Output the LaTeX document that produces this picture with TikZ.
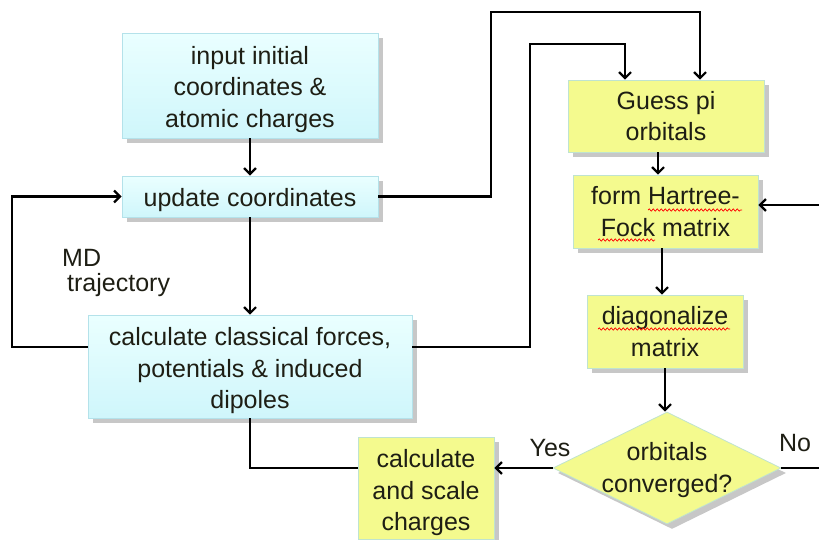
\documentclass[tikz,border=0pt]{standalone}
\usepackage{fontspec}
\setmainfont{Liberation Sans}
\usetikzlibrary{shapes.geometric,shadows,arrows.meta,decorations.pathmorphing}
\definecolor{cyantop}{HTML}{EAFFFF}
\definecolor{cyanbot}{HTML}{CFF6FB}
\definecolor{cyanline}{HTML}{B4E2EA}
\definecolor{yelfill}{HTML}{F4FA8E}
\definecolor{yelline}{HTML}{BFE3D0}
\definecolor{txt}{HTML}{1E1E14}
\tikzset{
  base/.style={inner sep=0pt,
    drop shadow={shadow xshift=5pt, shadow yshift=-5pt, fill=black!22, opacity=1}},
  cyanbox/.style={base, rectangle, draw=cyanline, line width=0.8pt, top color=cyantop, bottom color=cyanbot},
  yelbox/.style={base, rectangle, draw=yelline, line width=0.8pt, fill=yelfill},
  arr/.style={line width=2.4pt, -{Straight Barb[length=6pt,width=12pt,line width=2.2pt]}},
  ln/.style={line width=2.4pt},
  lbl/.style={font=\fontsize{25}{31.5}\selectfont, text=txt, inner sep=0pt, align=center}
}
\begin{document}
\begin{tikzpicture}[x=1pt,y=-1pt]
\useasboundingbox (0,0) rectangle (819,539);
% boxes
\node[cyanbox, minimum width=256pt, minimum height=105pt] (input) at (250,85.5) {};
\node[cyanbox, minimum width=256pt, minimum height=41pt] (update) at (250,196.5) {};
\node[cyanbox, minimum width=324pt, minimum height=103pt] (calc) at (250,366.5) {};
\node[yelbox, minimum width=196pt, minimum height=72pt] (guess) at (666,116) {};
\node[yelbox, minimum width=185pt, minimum height=73pt] (hf) at (665.5,211.5) {};
\node[yelbox, minimum width=156pt, minimum height=73pt] (diag) at (665,331.5) {};
\node[yelbox, diamond, minimum width=228pt, minimum height=112pt] (dia) at (667,468) {};
\node[yelbox, minimum width=136pt, minimum height=102pt] (charges) at (426,488) {};
% texts
\node[lbl] (inputt) at (250,89.5) {input initial\\coordinates \&\\atomic charges};
\node[lbl] (updatet) at (250,200) {update coordinates};
\node[lbl] (calct) at (250,371) {calculate classical forces,\\potentials \& induced\\dipoles};
\node[lbl] (guesst) at (666,116) {Guess pi\\orbitals};
\node[lbl] (hft) at (665.5,211.5) {form Hartree-\\Fock matrix};
\node[lbl] (diagt) at (665,331.5) {diagonalize\\matrix};
\node[lbl] (diat) at (667,470) {orbitals\\converged?};
\node[lbl] (chargest) at (426,493) {calculate\\and scale\\charges};
\node[lbl, anchor=west] (md) at (62,258) {MD};
\node[lbl, anchor=west] (traj) at (67,285) {trajectory};
\node[lbl] (yes) at (550,448) {Yes};
\node[lbl] (no) at (795,443) {No};
\coordinate (noend) at (819,468);
\coordinate (hfin) at (819,205);
% connectors
\draw[arr] (input.south) -- (update.north);
\draw[arr] (update.south) -- (calc.north);
\draw[arr] ([yshift=19.5pt]calc.west) -| (12,196.5) -- (update.west);
\draw[arr] (update.east) -- (491,196.5) -- (491,12) -| ([xshift=34pt]guess.north);
\draw[arr] ([yshift=19.5pt]calc.east) -| (530,44) -| ([xshift=-41pt]guess.north);
\draw[arr] ([xshift=-8pt]guess.south) -- ([xshift=-7.5pt]hf.north);
\draw[arr] ([xshift=-3.5pt]hf.south) -- ([xshift=-3pt]diag.north);
\draw[arr] (diag.south) -- (diag.south |- dia.north);
\draw[arr] (dia.west) -- (charges.east |- dia.west);
\draw[ln] (dia.east) -- (noend);
\draw[arr] (hfin) -- (hf.east |- hfin);
\draw[ln] (charges.west |- dia.west) -| (calc.south);
% spelling squiggles
\tikzset{squig/.style={red, line width=0.7pt, decorate, decoration={snake, segment length=4pt, amplitude=1.1pt}}}
\draw[squig] (648,210) -- (742,210);
\draw[squig] (598,240) -- (655,240);
\draw[squig] (598,329) -- (730,329);
\end{tikzpicture}
\end{document}
